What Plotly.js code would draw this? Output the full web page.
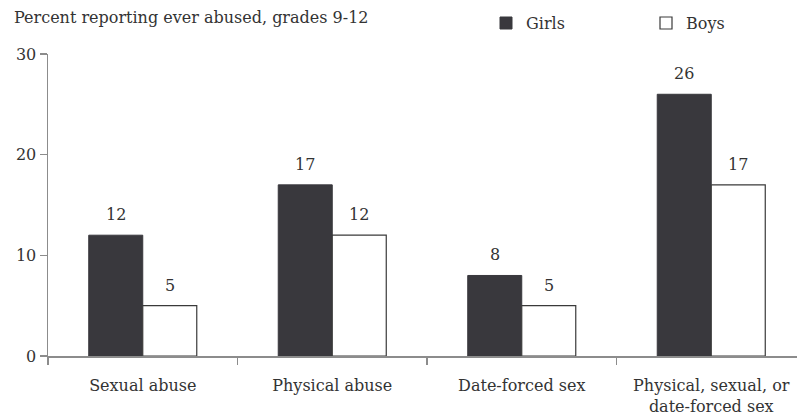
<!DOCTYPE html>
<html><head><meta charset="utf-8">
<script src="https://cdn.plot.ly/plotly-3.0.1.min.js"></script>
<style>html,body{margin:0;padding:0;overflow:hidden;background:#fff;width:797px;height:420px}#c{width:806px;height:420px}</style>
</head><body><div id="c"></div>
<script>
const categories = ["Sexual abuse", "Physical abuse", "Date-forced sex", "Physical, sexual, or<br>date-forced sex"];
const girls = [12, 17, 8, 26];
const boys = [5, 12, 5, 17];
const seriesNames = ["Girls", "Boys"];
const yTicks = [0, 10, 20, 30];

const FONT = "DejaVu Serif";
const TXT = "#333333";
const traces = [
  {type: "bar", name: seriesNames[0], x: categories, y: girls,
   marker: {color: "#39383d", line: {color: "#39383d", width: 1}}},
  {type: "bar", name: seriesNames[1], x: categories, y: boys,
   marker: {color: "#ffffff", line: {color: "#3a3a3a", width: 1.2}}}
];
const annotations = [];
[girls, boys].forEach((arr, si) => {
  arr.forEach((v, i) => {
    annotations.push({x: categories[i], y: v, xref: "x", yref: "y", text: String(v),
      showarrow: false, yanchor: "bottom", xshift: si === 0 ? -27 : 27, yshift: 9,
      font: {family: FONT, size: 16, color: TXT}});
  });
});
annotations.push({text: "Percent reporting ever abused, grades 9-12", xref: "paper", yref: "paper",
  x: -36/758, y: 1, xanchor: "left", yanchor: "bottom", yshift: 25, showarrow: false,
  font: {family: FONT, size: 16, color: TXT}});

const layout = {
  width: 806, height: 420,
  margin: {l: 48, r: 0, t: 54, b: 64},
  paper_bgcolor: "#fff", plot_bgcolor: "#fff",
  font: {family: FONT, size: 16, color: TXT},
  barmode: "group", bargap: 0.43, bargroupgap: 0,
  showlegend: true,
  legend: {orientation: "h", x: 0.578, y: 1.046, xanchor: "left", yanchor: "bottom",
    entrywidth: 115, entrywidthmode: "pixels", font: {family: FONT, size: 16, color: TXT},
    traceorder: "normal", itemclick: false},
  xaxis: {type: "category", showline: true, linecolor: "#8c8c8c", linewidth: 1.5,
    ticks: "outside", tickson: "boundaries", ticklen: 7, tickcolor: "#8c8c8c", tickwidth: 1.5,
    ticklabelstandoff: 14,
    showgrid: false, zeroline: false, tickfont: {family: FONT, size: 16, color: TXT}},
  yaxis: {range: [0, 30], tickvals: yTicks, ticks: "outside", ticklen: 7, tickcolor: "#8c8c8c", tickwidth: 1.5,
    showline: true, linecolor: "#8c8c8c", linewidth: 1.5, showgrid: false, zeroline: false,
    tickfont: {family: FONT, size: 16, color: TXT}},
  annotations: annotations
};
Plotly.newPlot("c", traces, layout, {staticPlot: true});
</script></body></html>
